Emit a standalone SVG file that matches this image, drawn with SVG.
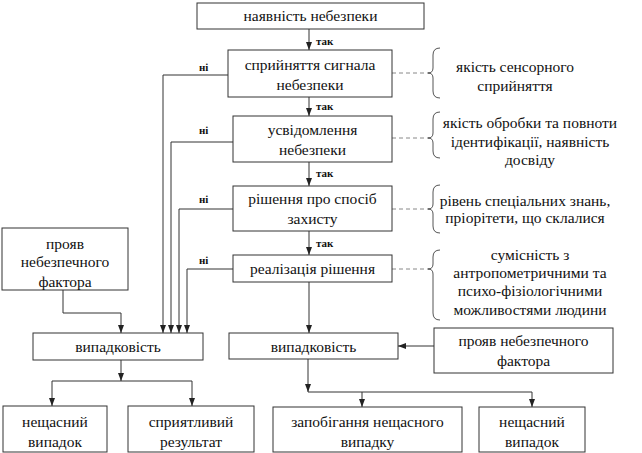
<svg xmlns="http://www.w3.org/2000/svg" width="642" height="453" viewBox="0 0 642 453" font-family="'Liberation Serif', 'DejaVu Serif', serif">
<style>
.b{fill:#fff;stroke:#333;stroke-width:1}
.t{font-size:15.5px;fill:#111;text-anchor:middle}
.s{font-size:11px;font-weight:bold;fill:#111}
.c{fill:none;stroke:#333;stroke-width:1}
.a{fill:none;stroke:#333;stroke-width:1;marker-end:url(#ah)}
.d{fill:none;stroke:#888;stroke-width:1;stroke-dasharray:4,3}
.br{fill:none;stroke:#555;stroke-width:1}
</style>
<defs>
<marker id="ah" viewBox="0 0 8 8" refX="8" refY="4" markerWidth="8" markerHeight="8" markerUnits="userSpaceOnUse" orient="auto">
<path d="M0,1 L8,4 L0,7 Z" fill="#222"/>
</marker>
</defs>
<rect width="642" height="453" fill="#fff"/>

<g id="connectors">
<path class="a" d="M309,29 V50"/>
<path class="a" d="M309,97 V116"/>
<path class="a" d="M309,162 V186"/>
<path class="a" d="M309,231 V255"/>
<path class="a" d="M309,282 V333"/>
<path class="a" d="M228,75 H163 V333"/>
<path class="a" d="M233,142 H171 V333"/>
<path class="a" d="M233,209 H179 V333"/>
<path class="a" d="M233,269 H187 V333"/>
<path class="a" d="M63,290 V313 H121 V333"/>
<path class="a" d="M121,360 V381"/>
<path class="c" d="M52,381 H192"/>
<path class="a" d="M52,381 V406"/>
<path class="a" d="M192,381 V406"/>
<path class="a" d="M434,346 H398"/>
<path class="a" d="M308,359 V392"/>
<path class="c" d="M308,392 H532"/>
<path class="a" d="M362,392 V407"/>
<path class="a" d="M532,392 V407"/>
<path class="d" d="M392,73 H432"/>
<path class="d" d="M392,138 H432"/>
<path class="d" d="M392,209 H432"/>
<path class="d" d="M392,269 H432"/>
<text class="s" x="316" y="45">так</text>
<text class="s" x="316" y="110">так</text>
<text class="s" x="316" y="177">так</text>
<text class="s" x="316" y="247">так</text>
<text class="s" x="199" y="71">ні</text>
<text class="s" x="199" y="134">ні</text>
<text class="s" x="199" y="203">ні</text>
<text class="s" x="199" y="264">ні</text>
</g>

<g id="n1"><rect class="b" x="197" y="3" width="227" height="26"/><text class="t" x="310.5" y="21">наявність небезпеки</text></g>
<g id="n2"><rect class="b" x="228" y="50" width="164" height="47"/><text class="t" x="310" y="70">сприйняття сигнала</text><text class="t" x="310" y="90">небезпеки</text></g>
<g id="n3"><rect class="b" x="233" y="116" width="159" height="46"/><text class="t" x="312.5" y="135">усвідомлення</text><text class="t" x="312.5" y="155">небезпеки</text></g>
<g id="n4"><rect class="b" x="233" y="186" width="159" height="45"/><text class="t" x="312.5" y="204">рішення про спосіб</text><text class="t" x="312.5" y="224">захисту</text></g>
<g id="n5"><rect class="b" x="233" y="255" width="159" height="27"/><text class="t" x="312.5" y="274">реалізація рішення</text></g>

<g id="f1"><path class="br" d="M440,48 Q433,48 433,55 V68 Q433,73 428,73 Q433,73 433,78 V91 Q433,98 440,98"/><text class="t" x="515" y="72">якість сенсорного</text><text class="t" x="515" y="91">сприйняття</text></g>
<g id="f2"><path class="br" d="M440,112 Q433,112 433,119 V133 Q433,138 428,138 Q433,138 433,143 V151 Q433,158 440,158"/><text class="t" x="530" y="128">якість обробки та повноти</text><text class="t" x="530" y="147">ідентифікації, наявність</text><text class="t" x="530" y="165">досвіду</text></g>
<g id="f3"><path class="br" d="M440,185 Q433,185 433,192 V204 Q433,209 428,209 Q433,209 433,214 V226 Q433,233 440,233"/><text class="t" x="525" y="206">рівень спеціальних знань,</text><text class="t" x="525" y="223">пріорітети, що склалися</text></g>
<g id="f4"><path class="br" d="M440,250 Q433,250 433,257 V264 Q433,269 428,269 Q433,269 433,274 V313 Q433,320 440,320"/><text class="t" x="530" y="260">сумісність з</text><text class="t" x="530" y="278">антропометричними та</text><text class="t" x="530" y="296">психо-фізіологічними</text><text class="t" x="530" y="315">можливостями людини</text></g>

<g id="pl"><rect class="b" x="2" y="228" width="126" height="62"/><text class="t" x="65" y="249">прояв</text><text class="t" x="65" y="267">небезпечного</text><text class="t" x="65" y="287">фактора</text></g>
<g id="pr"><rect class="b" x="434" y="328" width="179" height="45"/><text class="t" x="523.5" y="346">прояв небезпечного</text><text class="t" x="523.5" y="366">фактора</text></g>
<g id="vl"><rect class="b" x="33" y="333" width="170" height="27"/><text class="t" x="118" y="352">випадковість</text></g>
<g id="vr"><rect class="b" x="229" y="333" width="169" height="26"/><text class="t" x="313.5" y="352">випадковість</text></g>
<g id="o1"><rect class="b" x="3" y="406" width="104" height="46"/><text class="t" x="55" y="427">нещасний</text><text class="t" x="55" y="447">випадок</text></g>
<g id="o2"><rect class="b" x="128" y="406" width="126" height="46"/><text class="t" x="191" y="427">сприятливий</text><text class="t" x="191" y="447">результат</text></g>
<g id="o3"><rect class="b" x="273" y="407" width="189" height="45"/><text class="t" x="367.5" y="427">запобігання нещасного</text><text class="t" x="367.5" y="447">випадку</text></g>
<g id="o4"><rect class="b" x="479" y="407" width="106" height="45"/><text class="t" x="532" y="427">нещасний</text><text class="t" x="532" y="447">випадок</text></g>
</svg>
